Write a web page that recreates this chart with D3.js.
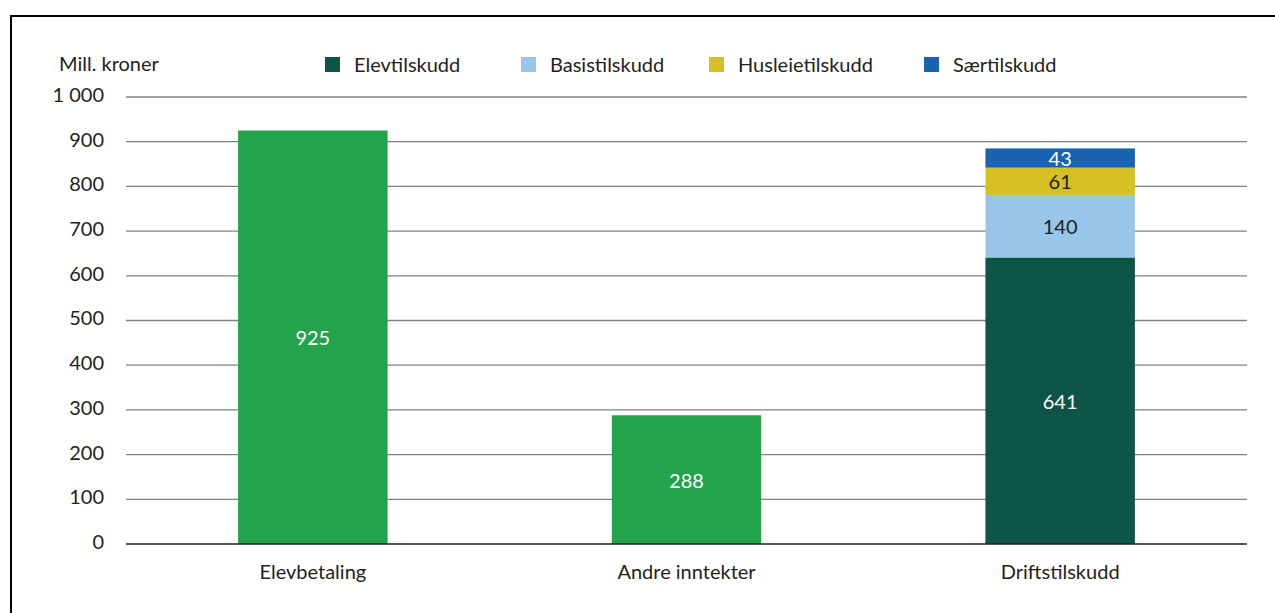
<!DOCTYPE html>
<html>
<head>
<meta charset="utf-8">
<script src="https://cdn.jsdelivr.net/npm/d3@7"></script>
<style>
  html, body { margin: 0; padding: 0; background: #fff; }
  svg { display: block; }
  text { font-family: Lato, "Open Sans", sans-serif; fill: #231f20; }
</style>
</head>
<body>
<svg id="chart" width="1275" height="613"></svg>
<script>
// Income categories along the x axis
const categories = ["Elevbetaling", "Andre inntekter", "Driftstilskudd"];
// Single-value bars (the third category is a stack of grants)
const incomeValues = [925, 288, null];
// Grant components stacked in the Driftstilskudd bar
const grantSeries = ["Elevtilskudd", "Basistilskudd", "Husleietilskudd", "Særtilskudd"];
const grantValues = [641, 140, 61, 43];
const grantColors = ["#0e5547", "#97c6ea", "#d5bf22", "#1a63b0"];
const grantLabelColors = ["#ffffff", "#231f20", "#231f20", "#ffffff"];
const incomeColor = "#23a34b";
// Value axis
const yTicks = [0, 100, 200, 300, 400, 500, 600, 700, 800, 900, 1000];
const yTitle = "Mill. kroner";

const svg = d3.select("#chart");
const W = 1275, H = 613;
const margin = { left: 126, right: 28, top: 97, bottom: 69 };
const plotW = W - margin.left - margin.right;
const fontSize = 20;

// Frame lines along the left and top edges
svg.append("path")
  .attr("d", "M11," + H + " V16 H" + W)
  .attr("fill", "none")
  .attr("stroke", "#000")
  .attr("stroke-width", 2);

const x = d3.scaleBand()
  .domain(categories)
  .range([margin.left, margin.left + plotW])
  .paddingInner(0.6)
  .paddingOuter(0.3);

const y = d3.scaleLinear()
  .domain([0, 1000])
  .range([H - margin.bottom, margin.top]);

// Horizontal gridlines
const grid = svg.append("g");
grid.selectAll("line")
  .data(yTicks.filter(d => d > 0))
  .join("line")
  .attr("x1", margin.left)
  .attr("x2", margin.left + plotW)
  .attr("y1", d => y(d))
  .attr("y2", d => y(d))
  .attr("stroke", "#808080")
  .attr("stroke-width", 1.3);

// Y axis tick labels
const fmt = d => d3.format(",")(d).replace(/,/g, "\u00a0");
const yAxis = d3.axisLeft(y).tickValues(yTicks).tickSize(0).tickPadding(22).tickFormat(fmt);
const yG = svg.append("g").attr("transform", `translate(${margin.left},0)`).call(yAxis);
yG.select(".domain").remove();
yG.selectAll("text")
  .attr("font-size", fontSize)
  .attr("font-family", "Lato, 'Open Sans', sans-serif")
  .attr("fill", "#231f20")
  .attr("dy", "0.22em");

// Axis title
svg.append("text")
  .attr("x", 59)
  .attr("y", 71)
  .attr("font-size", fontSize)
  .text(yTitle);

// Single bars
const single = categories.map((c, i) => ({ c, v: incomeValues[i] })).filter(d => d.v != null);
svg.append("g").selectAll("rect")
  .data(single)
  .join("rect")
  .attr("x", d => x(d.c))
  .attr("width", x.bandwidth())
  .attr("y", d => y(d.v))
  .attr("height", d => y(0) - y(d.v))
  .attr("fill", incomeColor);

svg.append("g").selectAll("text")
  .data(single)
  .join("text")
  .attr("x", d => x(d.c) + x.bandwidth() / 2)
  .attr("y", d => (y(0) + y(d.v)) / 2)
  .attr("text-anchor", "middle")
  .attr("dominant-baseline", "central")
  .attr("font-size", fontSize)
  .style("fill", "#ffffff")
  .text(d => d.v);

// Stacked grant bar
const stackRow = {};
grantSeries.forEach((s, i) => stackRow[s] = grantValues[i]);
const stacked = d3.stack().keys(grantSeries)([stackRow]);
const stackCat = categories[2];
const sg = svg.append("g");
sg.selectAll("rect")
  .data(stacked)
  .join("rect")
  .attr("x", x(stackCat))
  .attr("width", x.bandwidth())
  .attr("y", d => y(d[0][1]))
  .attr("height", d => y(d[0][0]) - y(d[0][1]))
  .attr("fill", (d, i) => grantColors[i]);
sg.selectAll("text")
  .data(stacked)
  .join("text")
  .attr("x", x(stackCat) + x.bandwidth() / 2)
  .attr("y", d => (y(d[0][0]) + y(d[0][1])) / 2)
  .attr("text-anchor", "middle")
  .attr("dominant-baseline", "central")
  .attr("font-size", fontSize)
  .style("fill", (d, i) => grantLabelColors[i])
  .text(d => d[0].data[d.key]);

// Baseline
svg.append("line")
  .attr("x1", margin.left)
  .attr("x2", margin.left + plotW)
  .attr("y1", y(0))
  .attr("y2", y(0))
  .attr("stroke", "#231f20")
  .attr("stroke-width", 1.3);

// Category labels
const xAxis = d3.axisBottom(x).tickSize(0).tickPadding(21);
const xG = svg.append("g").attr("transform", `translate(0,${y(0)})`).call(xAxis);
xG.select(".domain").remove();
xG.selectAll("text")
  .attr("font-size", fontSize)
  .attr("font-family", "Lato, 'Open Sans', sans-serif")
  .attr("fill", "#231f20");

// Legend
const legendX = [325, 521, 709, 924];
const lg = svg.append("g").selectAll("g")
  .data(grantSeries)
  .join("g")
  .attr("transform", (d, i) => `translate(${legendX[i]},57)`);
lg.append("rect")
  .attr("width", 15)
  .attr("height", 15)
  .attr("fill", (d, i) => grantColors[i]);
lg.append("text")
  .attr("x", 29)
  .attr("y", 14.5)
  .attr("font-size", fontSize)
  .text(d => d);
</script>
</body>
</html>
